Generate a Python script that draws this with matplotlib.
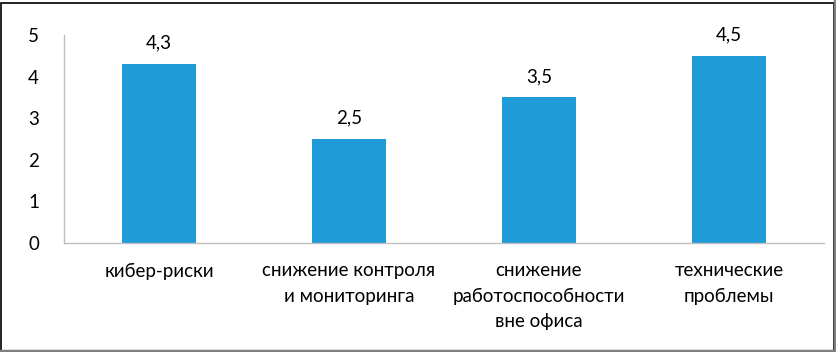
import matplotlib.pyplot as plt
from matplotlib.patches import Rectangle

categories = ["кибер-риски", "снижение контроля\nи мониторинга",
              "снижение\nработоспособности\nвне офиса", "технические\nпроблемы"]
values = [4.3, 2.5, 3.5, 4.5]
value_labels = ["4,3", "2,5", "3,5", "4,5"]
yticks = [0, 1, 2, 3, 4, 5]

plt.rcParams['font.family'] = ['Lato', 'DejaVu Sans']

W, H = 836, 352
fig = plt.figure(figsize=(W / 100, H / 100), dpi=100)
ax = fig.add_axes([64 / W, (H - 243) / H, (824 - 64) / W, (243 - 35) / H])

x = list(range(len(categories)))
bars = ax.bar(x, values, width=0.385, color="#1f9bd7")
for b, lab in zip(bars, value_labels):
    ax.annotate(lab, (b.get_x() + b.get_width() / 2, b.get_height()),
                xytext=(0, 9), textcoords="offset points",
                ha="center", va="bottom", fontsize=13.5, color="black")

ax.set_xlim(-0.5, len(categories) - 0.5)
ax.set_ylim(0, 5)
ax.set_yticks(yticks)
ax.set_yticklabels([str(t) for t in yticks], fontsize=13.5)
ax.set_xticks(x)
ax.set_xticklabels(categories, fontsize=13.5, linespacing=1.6)
ax.tick_params(axis="both", length=0)
ax.tick_params(axis="y", pad=18)
ax.tick_params(axis="x", pad=14)
for s in ["top", "right"]:
    ax.spines[s].set_visible(False)
for s in ["left", "bottom"]:
    ax.spines[s].set_color("#bfbfbf")
    ax.spines[s].set_linewidth(1)

# frame around the figure: dark on top/left, gray shadow on bottom/right
fig.patches.append(Rectangle((0.5 / W, 0.5 / H), 1 - 3 / W, 1 - 3 / H,
                             transform=fig.transFigure, fill=False,
                             edgecolor="black", linewidth=1.2))
fig.add_artist(plt.Line2D([1 - 1.5 / W, 1 - 1.5 / W], [0, 1], transform=fig.transFigure,
                          color="#808080", linewidth=2.5))
fig.add_artist(plt.Line2D([0, 1], [1.5 / H, 1.5 / H], transform=fig.transFigure,
                          color="#808080", linewidth=2.5))

fig.savefig("out.png", dpi=100)
